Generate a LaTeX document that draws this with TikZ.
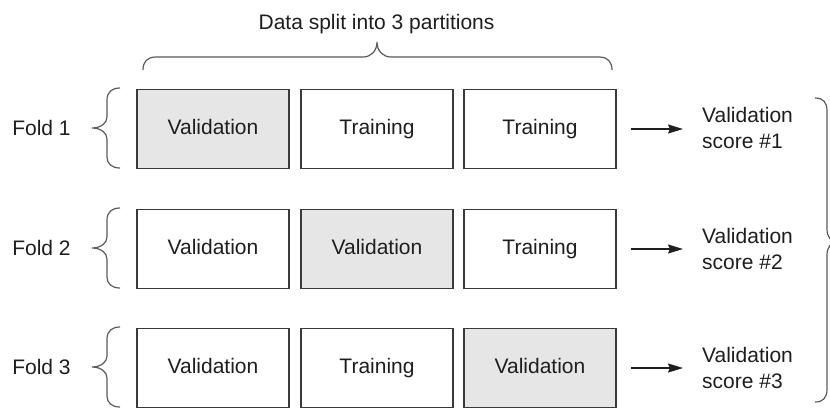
\documentclass[tikz,border=0pt]{standalone}
\usepackage{fontspec}
\setmainfont{Liberation Sans}
\usetikzlibrary{arrows.meta}
\definecolor{txt}{HTML}{1E1E1E}
\definecolor{boxline}{HTML}{3A3A3A}
\definecolor{shade}{HTML}{E6E6E6}
\definecolor{bracec}{HTML}{5A5A5A}
\tikzset{
  part/.style={draw=boxline, line width=1.3pt, minimum width=152pt, minimum height=79pt,
    inner sep=0pt, text height=15pt, text depth=4.5pt, font=\fontsize{21}{24}\selectfont, text=txt},
  valpart/.style={part, fill=shade},
  lbl/.style={font=\fontsize{21}{24}\selectfont, text=txt, inner sep=0pt},
  score/.style={font=\fontsize{21}{26}\selectfont, text=txt, inner sep=0pt, anchor=west, align=left},
  bracestyle/.style={draw=bracec, line width=1.2pt},
  arr/.style={draw=txt, line width=1.5pt, -{Stealth[length=15pt,width=9pt,inset=2pt]}, shorten <=14pt, shorten >=19pt}
}
\begin{document}
\begin{tikzpicture}[x=1pt,y=-1pt]
\useasboundingbox (0,0) rectangle (830,408);
% top label and brace
\node[lbl] (title) at (376.5,24) {Data split into 3 partitions};
\draw[bracestyle] (143,70) .. controls (143,62) and (147,57) .. (156,57) -- (363,57)
  .. controls (371,57) and (377,51) .. (377,42) .. controls (377,51) and (383,57) .. (391,57)
  -- (599,57) .. controls (608,57) and (612,62) .. (612,70);
% rows
\foreach \r/\y in {1/129, 2/249, 3/368}{
  \node[lbl] (fold\r) at (41.5,\y-1) {Fold \r};
  \draw[bracestyle] (120,\y-41) .. controls (112,\y-41) and (107,\y-37) .. (107,\y-29) -- (107,\y-12)
    .. controls (107,\y-6) and (101,\y-1) .. (92,\y-1) .. controls (101,\y-1) and (107,\y+4) .. (107,\y+10)
    -- (107,\y+28) .. controls (107,\y+35) and (112,\y+39) .. (120,\y+39);
}
\node[valpart] (b11) at (213,129) {Validation};
\node[part] (b12) at (377,129) {Training};
\node[part] (b13) at (540,129) {Training};
\node[part] (b21) at (213,249) {Validation};
\node[valpart] (b22) at (377,249) {Validation};
\node[part] (b23) at (540,249) {Training};
\node[part] (b31) at (213,368) {Validation};
\node[part] (b32) at (377,368) {Training};
\node[valpart] (b33) at (540,368) {Validation};
% scores
\node[score] (s1) at (702,128) {Validation\\score \#1};
\node[score] (s2) at (702,248.5) {Validation\\score \#2};
\node[score] (s3) at (702,367.5) {Validation\\score \#3};
\draw[arr] (b13.east) -- (s1.west |- b13.east);
\draw[arr] (b23.east) -- (s2.west |- b23.east);
\draw[arr] (b33.east) -- (s3.west |- b33.east);
% right brace
\draw[bracestyle] (815,98) .. controls (823,98) and (827,102) .. (827,111) -- (827,229)
  .. controls (827,237) and (831,242) .. (838,242) .. controls (831,242) and (827,247) .. (827,255)
  -- (827,389) .. controls (827,398) and (823,402) .. (815,402);
\end{tikzpicture}
\end{document}
